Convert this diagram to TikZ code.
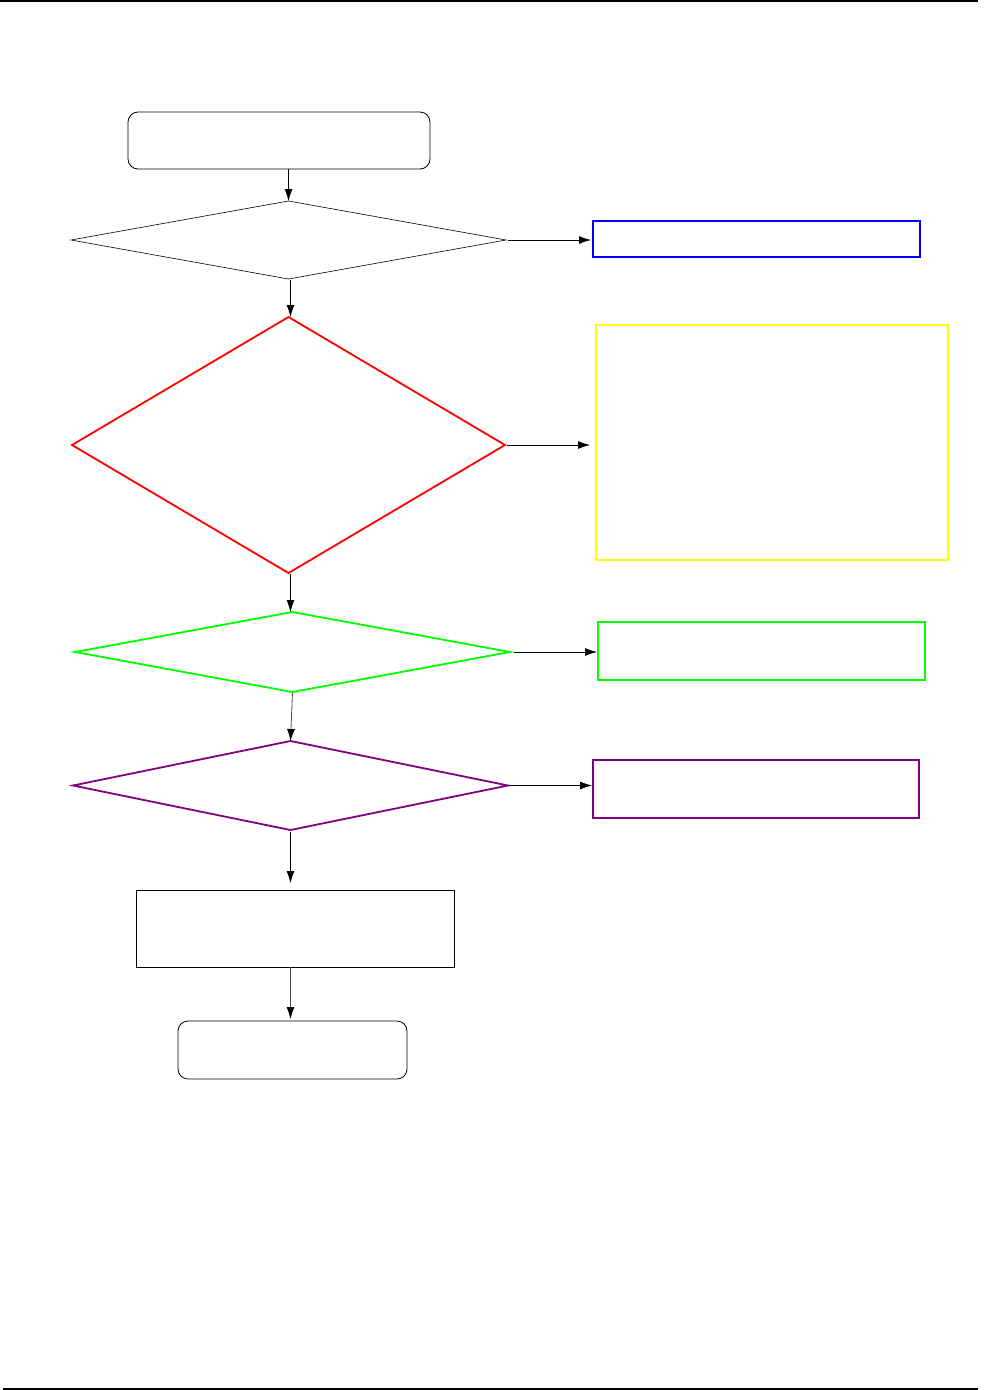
\documentclass[tikz,border=0pt]{standalone}
\usetikzlibrary{shapes.geometric,arrows.meta}
\definecolor{cblue}{RGB}{0,0,255}
\definecolor{cred}{RGB}{255,0,0}
\definecolor{cyellow}{RGB}{255,255,0}
\definecolor{cgreen}{RGB}{0,255,0}
\definecolor{cpurple}{RGB}{128,0,128}
\tikzset{
  dec/.style={shape=diamond, draw, inner sep=0pt, outer sep=0pt},
  box/.style={shape=rectangle, draw, inner sep=0pt, outer sep=0pt},
  term/.style={shape=rectangle, rounded corners=10pt, draw, inner sep=0pt, outer sep=0pt, line width=0.8pt},
  conn/.style={-{Latex[length=12pt,width=8pt,color=black]}, line width=0.8pt},
}
\begin{document}
\begin{tikzpicture}[x=1pt,y=-1pt]
\useasboundingbox (0,0) rectangle (995,1390);
% page rules
\draw[line width=2pt] (0,1) -- (978,1);
\draw[line width=2pt] (3,1389) -- (978,1389);
% nodes
\node[term, minimum width=302pt, minimum height=57pt] (start) at (279,140.5) {};
\node[dec, line width=0.6pt, minimum width=435pt, minimum height=78pt] (d1) at (288.5,240) {};
\node[box, draw=cblue, line width=2pt, minimum width=327pt, minimum height=36pt] (b1) at (756.5,239) {};
\node[dec, draw=cred, line width=1.8pt, minimum width=433pt, minimum height=256pt] (d2) at (288.5,445) {};
\node[box, draw=cyellow, line width=2pt, minimum width=352pt, minimum height=235pt] (b2) at (772,442.5) {};
\node[dec, draw=cgreen, line width=1.8pt, minimum width=435pt, minimum height=80pt] (d3) at (292.5,652) {};
\node[box, draw=cgreen, line width=2pt, minimum width=327pt, minimum height=58pt] (b3) at (761.5,651) {};
\node[dec, draw=cpurple, line width=1.8pt, minimum width=435pt, minimum height=89pt] (d4) at (290.5,785.5) {};
\node[box, draw=cpurple, line width=2pt, minimum width=326pt, minimum height=58pt] (b4) at (756,789) {};
\node[box, line width=0.8pt, minimum width=318pt, minimum height=77pt] (act) at (295,928.5) {};
\node[term, minimum width=229pt, minimum height=58pt] (stop) at (292.5,1050) {};
% connectors
\draw[conn] (start.south -| d1.north) -- (d1.north);
\draw[conn] (d1.south) ++(2,1) coordinate (d1s) -- (d1s |- d2.north);
\draw[conn, shorten <=2pt, shorten >=2pt] (d1.east) -- (d1.east -| b1.west);
\draw[conn, shorten <=2pt, shorten >=6pt] (d2.east) -- (d2.east -| b2.west);
\draw[conn] (d2.south) ++(2,1) coordinate (d2s) -- (d2s |- d3.north);
\draw[conn, shorten <=4pt, shorten >=1pt] (d3.east) -- (d3.east -| b3.west);
\draw[conn, black!70, shorten <=1pt] (d3.south) -- (d4.north);
\draw[conn, shorten <=1pt, shorten >=1pt] (d4.east) -- (d4.east -| b4.west);
\draw[conn, shorten <=2pt, shorten >=7pt] (d4.south) -- (d4.south |- act.north);
\draw[conn, black!70, shorten >=2pt] (act.south -| stop.north) ++(-2,0) coordinate (acts) -- (acts |- stop.north);
\end{tikzpicture}
\end{document}
